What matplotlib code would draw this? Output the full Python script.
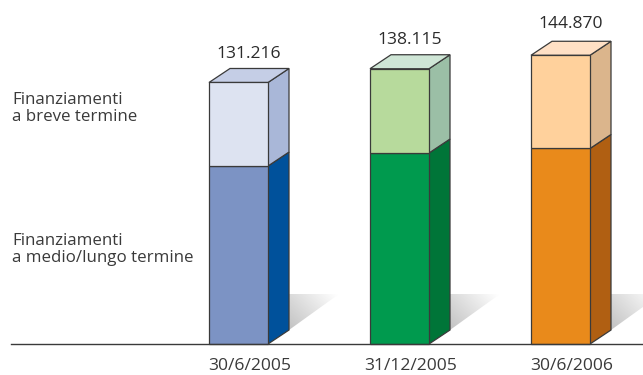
import numpy as np
import matplotlib
matplotlib.use('Agg')
import matplotlib.pyplot as plt
from matplotlib.patches import Polygon
from matplotlib.colors import LinearSegmentedColormap

plt.rcParams['font.family'] = ['Open Sans', 'DejaVu Sans']

dates = ['30/6/2005', '31/12/2005', '30/6/2006']
totals = [131216, 138115, 144870]
lungo = [89300, 95830, 98100]
breve = [t - l for t, l in zip(totals, lungo)]
totals_txt = ['131.216', '138.115', '144.870']

# front, side, top colours for each date
low_front = ['#7C93C4', '#009A4E', '#E98A1B']
low_side = ['#00519B', '#007538', '#B05F12']
up_front = ['#DDE3F1', '#B7DA9C', '#FFD19C']
up_side = ['#A9B7D8', '#9BBFA6', '#DBB58C']
up_top = ['#C5CEE6', '#CFE6D6', '#FFE0C5']

W, H = 643, 375
base_y = 344
px_per_unit = 0.001993   # pixels for one unit of value
bar_x = [209, 370, 531]
bar_w = 59
dx, dy = 21, 14          # depth of the 3d box
label_gap = [20, 21, 23]
edge = '#3a3a3a'

def upx(p):
    return p / px_per_unit

fig = plt.figure(figsize=(W / 100, H / 100), dpi=100)
ax = fig.add_axes([0, 0, 1, 1])
ax.set_xlim(0, W)
ax.set_ylim(upx(base_y - H), upx(base_y))
ax.axis('off')

# shadow fades towards the upper right
fade = LinearSegmentedColormap.from_list('fade', ['#c2c2c2', '#ffffff'])
u, v = np.meshgrid(np.linspace(0, 1, 100), np.linspace(0, 1, 72))
grad = np.clip(u * 0.62 + v * 0.4, 0, 1)

for i in range(len(dates)):
    x0 = bar_x[i]
    x1 = x0 + bar_w
    x2 = x1 + dx
    lo = lungo[i]
    tot = totals[i]

    # shadow on the floor
    shadow = Polygon([(x2, upx(50)), (x2, upx(14)), (x2 + 50, upx(50))],
                     closed=True, transform=ax.transData, facecolor='none', edgecolor='none')
    ax.add_patch(shadow)
    im = ax.imshow(grad, extent=(x2, x2 + 50, upx(14), upx(50)), cmap=fade, origin='lower',
                   aspect='auto', zorder=1, vmin=0, vmax=1)
    im.set_clip_path(shadow)

    # side faces
    ax.add_patch(Polygon([(x1, 0), (x2, upx(dy)), (x2, lo + upx(dy)), (x1, lo)],
                         facecolor=low_side[i], edgecolor=edge, lw=0.9, zorder=2))
    ax.add_patch(Polygon([(x1, lo), (x2, lo + upx(dy)), (x2, tot + upx(dy)), (x1, tot)],
                         facecolor=up_side[i], edgecolor=edge, lw=0.9, zorder=2))
    # top face
    ax.add_patch(Polygon([(x0, tot), (x1, tot), (x2, tot + upx(dy)), (x0 + dx, tot + upx(dy))],
                         facecolor=up_top[i], edgecolor=edge, lw=0.9, zorder=2))

    # front faces
    ax.bar(x0, lo, width=bar_w, align='edge', color=low_front[i], edgecolor=edge, lw=0.9, zorder=3)
    ax.bar(x0, breve[i], bottom=lo, width=bar_w, align='edge', color=up_front[i],
           edgecolor=edge, lw=0.9, zorder=3)

    ax.annotate(totals_txt[i], (x0 + 40, tot), xytext=(0, label_gap[i]), textcoords='offset pixels',
                ha='center', va='bottom', fontsize=12.6, color='#2b2b2b', zorder=4)
    ax.text(x0 + 40.5, upx(base_y - 366.5), dates[i], ha='center', va='center',
            fontsize=12.6, color='#3a3a3a')

ax.plot([11, W], [0, 0], color='#3a3a3a', lw=1, zorder=4)
ax.set_xlim(0, W)
ax.set_ylim(upx(base_y - H), upx(base_y))

ax.text(12, upx(base_y - 108.5), 'Finanziamenti\na breve termine', ha='left', va='center',
        fontsize=12.2, color='#3a3a3a', linespacing=1.1)
ax.text(12, upx(base_y - 249.5), 'Finanziamenti\na medio/lungo termine', ha='left', va='center',
        fontsize=12.2, color='#3a3a3a', linespacing=1.1)

fig.savefig('out.png', dpi=100)
